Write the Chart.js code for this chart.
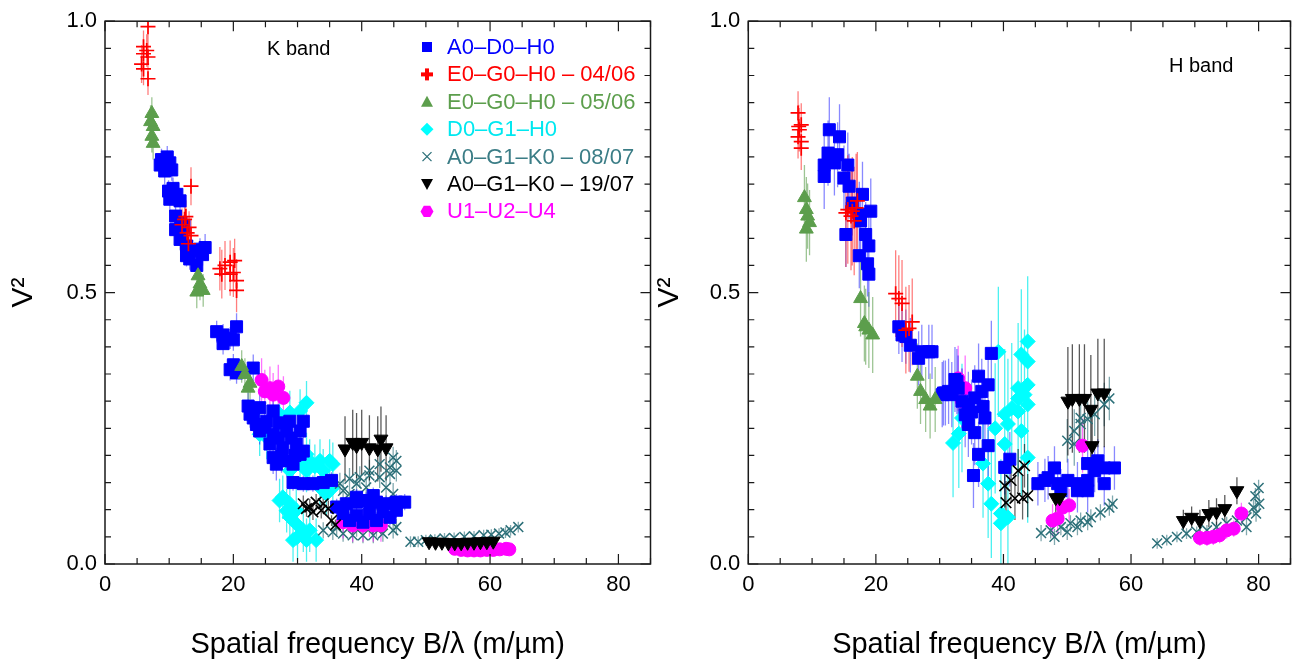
<!DOCTYPE html>
<html>
<head>
<meta charset="utf-8">
<script src="https://cdn.jsdelivr.net/npm/chart.js@4.4.1/dist/chart.umd.min.js"></script>
<style>
  body { margin: 0; background: #fff; width: 1300px; height: 667px; overflow: hidden; position: relative; }
  #wk { position: absolute; left: 0; top: 0; }
  #wh { position: absolute; left: 650px; top: 0; }
</style>
</head>
<body>
<div id="wk"><canvas id="kband" width="660" height="667"></canvas></div>
<div id="wh"><canvas id="hband" width="650" height="667"></canvas></div>
<script>
// each point: [B/lambda, V2, error]
// ---------- K band ----------
const kBlue = [
  [8.8,0.745,0.02],[10.1,0.739,0.02],[9.3,0.724,0.025],[10.4,0.726,0.02],[8.6,0.735,0.02],[9.7,0.75,0.02],
  [9.9,0.687,0.02],[11.2,0.681,0.02],[10.1,0.672,0.025],[11.7,0.669,0.02],[10.6,0.692,0.02],
  [11.0,0.641,0.02],[11.8,0.629,0.02],[11.0,0.616,0.025],[12.3,0.623,0.02],
  [11.7,0.598,0.02],[12.7,0.586,0.025],[13.7,0.577,0.02],[14.8,0.58,0.02],[15.6,0.583,0.025],[13.2,0.562,0.02],[14.3,0.55,0.025],[12.7,0.568,0.02],[15.2,0.57,0.02],
  [17.4,0.428,0.02],[18.4,0.422,0.02],[19.5,0.416,0.02],[20.5,0.437,0.025],[18.4,0.406,0.02],[20.0,0.413,0.02],
  [19.5,0.358,0.02],[20.5,0.352,0.02],[23.1,0.361,0.025],[20.0,0.367,0.02],
  [22.3,0.291,0.025],[24.1,0.288,0.025],[26.2,0.282,0.03],[23.1,0.269,0.025],[25.2,0.263,0.03],[27.2,0.26,0.03],[28.8,0.263,0.03],[30.9,0.263,0.03],
  [24.1,0.245,0.025],[26.2,0.239,0.03],[28.3,0.245,0.03],[30.4,0.245,0.03],[25.7,0.221,0.03],[27.7,0.214,0.03],[29.8,0.221,0.03],
  [26.2,0.196,0.03],[28.3,0.19,0.03],[30.4,0.202,0.03],[26.7,0.184,0.03],[29.3,0.184,0.03],[30.9,0.208,0.03],[23.6,0.257,0.025],[22.6,0.276,0.025],
  [27.0,0.232,0.03],[29.0,0.232,0.03],[24.9,0.252,0.03],[27.5,0.198,0.03],[29.6,0.2,0.03],
  [29.3,0.15,0.015],[30.9,0.148,0.015],[32.4,0.148,0.015],[34.0,0.15,0.015],[35.3,0.154,0.015],
  [36.1,0.105,0.015],[37.6,0.111,0.015],[39.2,0.114,0.015],[40.7,0.117,0.015],[42.3,0.114,0.015],[43.8,0.111,0.015],[45.4,0.114,0.015],[46.7,0.114,0.015],
  [37.1,0.093,0.015],[39.2,0.09,0.015],[41.2,0.093,0.015],[43.3,0.096,0.015],[45.4,0.099,0.015],
  [38.1,0.08,0.015],[40.2,0.077,0.015],[42.3,0.08,0.015],[44.4,0.086,0.015],[39.2,0.123,0.015],[41.8,0.126,0.015]
];
const kRed = [
  [6.0,0.953,0.03],[6.5,0.946,0.03],[6.0,0.94,0.035],[6.7,0.934,0.03],[5.7,0.921,0.035],[6.0,0.912,0.03],[6.7,0.894,0.03],[6.7,0.99,0.04],
  [12.0,0.625,0.03],[12.4,0.635,0.035],[12.8,0.61,0.03],[13.1,0.62,0.03],[13.4,0.605,0.03],[13.0,0.59,0.03],[13.4,0.696,0.035],[12.6,0.64,0.03],
  [17.9,0.544,0.04],[18.7,0.55,0.045],[19.5,0.556,0.04],[20.2,0.559,0.04],[18.2,0.534,0.045],[19.5,0.534,0.04],[20.5,0.522,0.04],[20.5,0.504,0.04],[20.0,0.537,0.045]
];
const kGreen = [
  [7.3,0.83,0.03],[7.5,0.806,0.03],[7.3,0.788,0.03],[7.5,0.775,0.03],[7.1,0.815,0.03],
  [14.5,0.531,0.03],[14.8,0.516,0.03],[14.3,0.501,0.03],[15.3,0.504,0.03],
  [21.3,0.364,0.03],[21.8,0.349,0.03],[22.6,0.333,0.03],[22.3,0.324,0.03]
];
const kCyan = [
  [31.4,0.297,0.04],[30.4,0.282,0.04],[28.8,0.279,0.04],[27.2,0.276,0.04],[25.2,0.233,0.04],[24.1,0.239,0.04],
  [28.8,0.172,0.04],[30.4,0.184,0.04],[31.9,0.19,0.04],[33.5,0.19,0.04],[35.0,0.19,0.04],[31.4,0.172,0.04],[34.0,0.172,0.04],[35.5,0.184,0.04],[31.4,0.202,0.04],
  [27.7,0.123,0.04],[28.8,0.111,0.04],[29.8,0.099,0.04],[28.8,0.086,0.04],[29.8,0.074,0.04],[30.9,0.062,0.04],
  [29.3,0.044,0.04],[31.4,0.044,0.04],[32.9,0.044,0.04],[31.9,0.062,0.04],[27.2,0.117,0.04],[34.5,0.129,0.04],[33.5,0.141,0.04],[35.5,0.141,0.04],
  [32.7,0.18,0.04],[30.0,0.05,0.04],[28.3,0.098,0.04]
];
const kTeal = [
  [36.6,0.148,0.02],[38.1,0.157,0.02],[39.7,0.16,0.02],[41.2,0.163,0.02],[42.8,0.16,0.02],[44.4,0.166,0.02],[45.4,0.19,0.02],[44.4,0.178,0.02],[42.8,0.184,0.02],
  [41.2,0.172,0.02],[39.2,0.148,0.02],[37.1,0.135,0.02],[40.7,0.141,0.02],[43.8,0.141,0.02],[44.9,0.129,0.02],[38.1,0.129,0.02],[45.4,0.172,0.02],[44.9,0.196,0.02],
  [34.0,0.062,0.015],[35.5,0.059,0.015],[37.1,0.056,0.015],[38.6,0.053,0.015],[40.2,0.053,0.015],[41.8,0.053,0.015],[43.3,0.056,0.015],[44.9,0.062,0.015],[45.4,0.068,0.015],
  [36.1,0.068,0.015],[39.2,0.065,0.015],[42.3,0.065,0.015],
  [47.6,0.041,0.01],[48.8,0.041,0.01],[50.0,0.044,0.01],[51.4,0.045,0.01],[52.9,0.047,0.01],[54.4,0.048,0.01],[56.0,0.05,0.01],[57.5,0.051,0.01],
  [59.0,0.053,0.01],[60.2,0.054,0.01],[61.4,0.056,0.01],[62.4,0.058,0.01],[63.2,0.062,0.01],[64.4,0.068,0.01]
];
const kBlackTri = [
  [37.4,0.212,0.06],[38.6,0.224,0.06],[40.0,0.224,0.06],[41.2,0.214,0.06],[42.5,0.212,0.06],[43.0,0.23,0.06],[43.8,0.214,0.06],[39.2,0.218,0.06],
  [50.5,0.041,0.008],[51.5,0.04,0.008],[52.5,0.04,0.008],[53.5,0.039,0.008],[54.5,0.039,0.008],[55.5,0.039,0.008],[56.5,0.04,0.008],[57.5,0.04,0.008],
  [58.5,0.041,0.008],[59.5,0.041,0.008],[60.5,0.042,0.008]
];
const kBlackX = [
  [30.9,0.111,0.015],[31.9,0.105,0.015],[32.9,0.114,0.015],[34.0,0.111,0.015],[32.4,0.096,0.015],[33.7,0.099,0.015],[31.4,0.102,0.015],[34.8,0.102,0.015],
  [35.3,0.08,0.01],[35.9,0.072,0.01]
];
const kMagenta = [
  [24.4,0.339,0.04],[25.7,0.324,0.04],[27.0,0.327,0.04],[27.8,0.306,0.04],[26.2,0.312,0.04],[24.9,0.318,0.04],
  [37.1,0.077,0.03],[38.6,0.071,0.03],[40.2,0.071,0.03],[41.8,0.071,0.03],[43.0,0.071,0.03],[41.2,0.08,0.03],
  [54.5,0.028,0.008],[55.5,0.026,0.008],[56.5,0.025,0.008],[57.5,0.025,0.008],[58.5,0.025,0.008],[59.5,0.026,0.008],
  [60.5,0.026,0.008],[61.5,0.027,0.008],[62.5,0.028,0.008],[63.0,0.027,0.008]
];

// ---------- H band ----------
const hBlue = [
  [12.7,0.8,0.06],[14.3,0.787,0.06],[12.5,0.757,0.06],[14.0,0.754,0.06],[11.9,0.735,0.06],[13.5,0.739,0.06],[11.9,0.714,0.06],
  [15.6,0.735,0.06],[15.0,0.711,0.06],[15.8,0.696,0.06],[17.9,0.681,0.06],[19.2,0.65,0.06],[17.6,0.632,0.06],[15.3,0.607,0.06],
  [18.4,0.607,0.06],[18.9,0.586,0.06],[17.4,0.568,0.06],[18.7,0.553,0.06],[18.9,0.534,0.06],[17.4,0.644,0.06],[16.3,0.665,0.06],
  [23.6,0.437,0.05],[24.7,0.419,0.05],[25.4,0.403,0.05],[24.1,0.422,0.05],
  [27.2,0.391,0.05],[28.3,0.391,0.05],[26.7,0.379,0.05],[28.8,0.391,0.05],
  [30.6,0.315,0.06],[31.9,0.312,0.06],[32.7,0.336,0.06],[30.9,0.315,0.06],[32.4,0.34,0.06],[36.1,0.346,0.06],[37.6,0.33,0.06],[38.1,0.388,0.06],
  [33.5,0.3,0.06],[35.5,0.306,0.06],[34.5,0.257,0.06],[37.1,0.269,0.06],[35.5,0.242,0.06],[37.6,0.218,0.06],[36.1,0.202,0.06],[35.3,0.163,0.06],
  [30.4,0.312,0.06],[34.5,0.294,0.06],[36.6,0.318,0.06],[32.9,0.324,0.06],[31.4,0.318,0.06],[40.2,0.178,0.05],[41.0,0.193,0.05],
  [35.0,0.28,0.06],[36.8,0.29,0.06],[34.0,0.275,0.06],
  [45.4,0.148,0.04],[47.0,0.159,0.04],[48.5,0.148,0.04],[50.1,0.154,0.04],[51.6,0.148,0.04],[53.2,0.154,0.04],[54.3,0.172,0.04],[55.8,0.177,0.04],
  [57.4,0.177,0.04],[53.2,0.185,0.04],[54.8,0.19,0.04],[51.6,0.135,0.04],[53.2,0.135,0.04],[55.8,0.148,0.04],[48.0,0.177,0.04],[49.0,0.135,0.04],[46.5,0.154,0.04]
];
const hRed = [
  [7.8,0.831,0.04],[8.3,0.809,0.04],[8.0,0.8,0.04],[7.8,0.787,0.04],[8.3,0.778,0.04],[8.3,0.766,0.04],[7.9,0.806,0.04],
  [15.6,0.653,0.1],[16.3,0.65,0.1],[17.1,0.669,0.09],[16.9,0.656,0.1],[16.1,0.641,0.1],[16.6,0.632,0.1],[15.3,0.647,0.1],
  [23.1,0.498,0.08],[23.6,0.489,0.08],[24.1,0.48,0.08],[25.7,0.446,0.08],[25.2,0.434,0.08],[24.7,0.431,0.08]
];
const hGreen = [
  [8.8,0.675,0.06],[9.1,0.653,0.06],[9.3,0.641,0.06],[9.6,0.629,0.06],[9.1,0.617,0.06],
  [17.6,0.489,0.07],[18.2,0.443,0.07],[18.9,0.431,0.07],[19.5,0.422,0.07],[18.4,0.437,0.07],
  [26.5,0.346,0.06],[27.0,0.318,0.06],[27.8,0.303,0.06],[28.5,0.291,0.06],[29.3,0.303,0.06]
];
const hCyan = [
  [39.2,0.391,0.12],[43.8,0.41,0.12],[43.8,0.373,0.12],[42.8,0.386,0.12],[43.8,0.33,0.12],[43.3,0.312,0.12],[43.8,0.294,0.12],
  [42.3,0.281,0.12],[40.2,0.276,0.12],[38.7,0.25,0.12],[40.7,0.258,0.12],[42.8,0.245,0.12],[43.8,0.196,0.12],[40.2,0.221,0.12],
  [37.6,0.148,0.1],[38.1,0.111,0.1],[39.6,0.093,0.1],[39.6,0.075,0.1],[32.1,0.223,0.1],[33.5,0.269,0.1],[42.3,0.324,0.12],
  [42.3,0.305,0.12],[41.3,0.287,0.12],[40.7,0.086,0.1],[33.0,0.24,0.1],[36.8,0.185,0.1]
];
const hTeal = [
  [45.9,0.057,0.015],[47.4,0.062,0.015],[49.0,0.068,0.015],[50.5,0.075,0.015],[52.1,0.08,0.015],[53.7,0.086,0.015],[55.2,0.095,0.015],
  [56.6,0.104,0.015],[57.1,0.111,0.015],[48.0,0.05,0.015],[50.0,0.059,0.015],[51.6,0.068,0.015],[53.2,0.077,0.015],
  [50.0,0.227,0.04],[51.1,0.245,0.04],[52.1,0.258,0.04],[53.2,0.267,0.04],[54.3,0.276,0.04],[55.8,0.294,0.04],[56.6,0.305,0.04],
  [52.1,0.269,0.04],[51.1,0.221,0.04],
  [64.1,0.038,0.01],[65.6,0.044,0.01],[67.2,0.05,0.01],[68.7,0.056,0.01],[70.3,0.059,0.01],[71.9,0.062,0.01],[73.4,0.068,0.01],
  [75.0,0.075,0.012],[76.6,0.08,0.012],[78.1,0.086,0.015],[79.2,0.104,0.015],[80.1,0.111,0.015],[78.1,0.068,0.015],[79.6,0.093,0.015],
  [80.0,0.14,0.015],[79.5,0.125,0.015]
];
const hBlackTri = [
  [50.1,0.3,0.1],[50.8,0.305,0.1],[51.9,0.305,0.1],[52.7,0.305,0.1],[53.7,0.285,0.1],[54.8,0.315,0.1],[55.8,0.315,0.1],
  [53.9,0.218,0.06],[48.2,0.122,0.03],[48.8,0.122,0.03],
  [68.2,0.08,0.02],[69.5,0.086,0.02],[70.8,0.08,0.02],[72.2,0.093,0.025],[73.4,0.096,0.025],[74.7,0.102,0.025],[76.6,0.135,0.025]
];
const hBlackX = [
  [40.2,0.144,0.04],[41.2,0.154,0.04],[42.3,0.172,0.04],[43.3,0.181,0.04],[40.4,0.113,0.04],[41.8,0.121,0.04],[43.0,0.122,0.04],[43.8,0.126,0.04]
];
const hMagenta = [
  [32.9,0.342,0.06],[34.0,0.324,0.06],[33.5,0.3,0.06],
  [52.4,0.218,0.05],[50.3,0.108,0.03],[48.5,0.084,0.03],[49.3,0.104,0.03],[47.7,0.08,0.03],
  [70.8,0.048,0.015],[71.9,0.048,0.015],[72.9,0.05,0.015],[73.9,0.053,0.015],[75.0,0.062,0.015],[76.1,0.065,0.015],[77.3,0.093,0.02]
];

const legendLabels = ['A0\u2013D0\u2013H0', 'E0\u2013G0\u2013H0 \u2013 04/06', 'E0\u2013G0\u2013H0 \u2013 05/06', 'D0\u2013G1\u2013H0',
                      'A0\u2013G1\u2013K0 \u2013 08/07', 'A0\u2013G1\u2013K0 \u2013 19/07', 'U1\u2013U2\u2013U4'];
const xTickLabels = [0, 20, 40, 60, 80];
const yTickLabels = [0, 0.5, 1];

const FONT = "'Liberation Sans', Arial, Helvetica, sans-serif";

// marker look per series
const styles = {
  blue:     { c: '#0000ff', e: 'rgba(40,40,255,0.55)', ps: 'rect', r: 8.5, rot: 0, bw: 1, order: 5 },
  red:      { c: '#ff0000', e: 'rgba(255,40,40,0.6)', ps: 'cross', r: 7.5, rot: 0, bw: 1.7, order: 2 },
  green:    { c: '#5c9e4c', e: 'rgba(92,158,76,0.6)', ps: 'triangle', r: 8, rot: 0, bw: 1, order: 3 },
  cyan:     { c: '#00ffff', e: 'rgba(0,235,235,0.7)', ps: 'rectRot', r: 7.5, rot: 0, bw: 1, order: 8 },
  teal:     { c: '#2d7079', e: 'rgba(45,112,121,0.6)', ps: 'crossRot', r: 7, rot: 0, bw: 1.5, order: 7 },
  blackTri: { c: '#000000', e: 'rgba(0,0,0,0.65)', ps: 'triangle', r: 8, rot: 180, bw: 1, order: 1 },
  blackX:   { c: '#000000', e: 'rgba(0,0,0,0.6)', ps: 'crossRot', r: 7.5, rot: 0, bw: 1.6, order: 4 },
  magenta:  { c: '#ff00ff', e: 'rgba(255,0,255,0.55)', ps: 'circle', r: 6.5, rot: 0, bw: 1, order: 6 }
};

function errBars(pts) {
  const out = [];
  pts.forEach(p => {
    out.push({ x: p[0], y: p[1] - p[2] }, { x: p[0], y: p[1] + p[2] }, { x: p[0], y: null });
  });
  return out;
}

function buildDatasets(groups) {
  const ds = [];
  groups.forEach(([pts, key]) => {
    const s = styles[key];
    ds.push({
      type: 'line', data: errBars(pts), borderColor: s.e, borderWidth: 1.3,
      pointRadius: 0, spanGaps: false, fill: false, order: 50 + s.order
    });
    ds.push({
      type: 'scatter', data: pts.map(p => ({ x: p[0], y: p[1] })),
      pointStyle: s.ps, pointRadius: s.r, pointRotation: s.rot,
      backgroundColor: s.c, borderColor: s.c, pointBorderWidth: s.bw, order: s.order
    });
  });
  return ds;
}

const frame = {
  id: 'frame',
  afterDatasetsDraw(chart) {
    const { ctx, chartArea: a, scales: { x, y } } = chart;
    ctx.save();
    ctx.strokeStyle = '#1a1a1a';
    ctx.lineWidth = 1.5;
    ctx.strokeRect(a.left, a.top, a.right - a.left, a.bottom - a.top);
    ctx.lineWidth = 1.2;
    ctx.beginPath();
    x.ticks.forEach(t => {
      const px = x.getPixelForValue(t.value);
      const len = xTickLabels.some(v => Math.abs(v - t.value) < 1e-6) ? 10 : 6;
      ctx.moveTo(px, a.bottom); ctx.lineTo(px, a.bottom - len);
      ctx.moveTo(px, a.top); ctx.lineTo(px, a.top + len);
    });
    y.ticks.forEach(t => {
      const py = y.getPixelForValue(t.value);
      const len = yTickLabels.some(v => Math.abs(v - t.value) < 1e-6) ? 10 : 6;
      ctx.moveTo(a.left, py); ctx.lineTo(a.left + len, py);
      ctx.moveTo(a.right, py); ctx.lineTo(a.right - len, py);
    });
    ctx.stroke();
    ctx.restore();
  }
};

function bandLabel(text, x, y) {
  return {
    id: 'band',
    afterDraw(chart) {
      const ctx = chart.ctx;
      ctx.save();
      ctx.font = '20px ' + FONT;
      ctx.fillStyle = '#000';
      ctx.textBaseline = 'alphabetic';
      ctx.fillText(text, x, y);
      ctx.restore();
    }
  };
}

function legendMarker(ctx, kind, x, y, col) {
  ctx.fillStyle = col; ctx.strokeStyle = col;
  ctx.beginPath();
  if (kind === 'blue') { ctx.fillRect(x - 5, y - 5, 10, 10); return; }
  if (kind === 'red') { ctx.fillRect(x - 6, y - 2, 12, 4); ctx.fillRect(x - 2, y - 6, 4, 12); return; }
  if (kind === 'green') { ctx.moveTo(x, y - 6); ctx.lineTo(x + 6, y + 5); ctx.lineTo(x - 6, y + 5); ctx.closePath(); ctx.fill(); return; }
  if (kind === 'cyan') { ctx.moveTo(x, y - 6.5); ctx.lineTo(x + 6.5, y); ctx.lineTo(x, y + 6.5); ctx.lineTo(x - 6.5, y); ctx.closePath(); ctx.fill(); return; }
  if (kind === 'teal') { ctx.lineWidth = 1.3; ctx.moveTo(x - 4.5, y - 4.5); ctx.lineTo(x + 4.5, y + 4.5); ctx.moveTo(x + 4.5, y - 4.5); ctx.lineTo(x - 4.5, y + 4.5); ctx.stroke(); return; }
  if (kind === 'blackTri') { ctx.moveTo(x - 6, y - 5); ctx.lineTo(x + 6, y - 5); ctx.lineTo(x, y + 6); ctx.closePath(); ctx.fill(); return; }
  if (kind === 'magenta') {
    for (let i = 0; i < 6; i++) {
      const a = Math.PI / 3 * i;
      const px = x + 6.5 * Math.cos(a), py = y + 6.5 * Math.sin(a);
      if (i === 0) ctx.moveTo(px, py); else ctx.lineTo(px, py);
    }
    ctx.closePath(); ctx.fill();
  }
}

const legendKeys = ['blue', 'red', 'green', 'cyan', 'teal', 'blackTri', 'magenta'];
const legendText = ['#0000ff', '#ff0000', '#5c9e4c', '#00e8f0', '#3b7d86', '#000000', '#ff00ff'];

const legendBox = {
  id: 'legendBox',
  afterDraw(chart) {
    const ctx = chart.ctx;
    ctx.save();
    ctx.font = '22px ' + FONT;
    ctx.textBaseline = 'middle';
    legendLabels.forEach((lab, i) => {
      const y = 47 + i * 27.4;
      legendMarker(ctx, legendKeys[i], 427, y, styles[legendKeys[i]].c);
      ctx.fillStyle = legendText[i];
      ctx.fillText(lab, 447, y + 1);
    });
    ctx.restore();
  }
};

function makeOptions(yWidth, titlePad, padRight) {
  return {
    responsive: false,
    animation: false,
    events: [],
    layout: { padding: { top: 17, right: padRight, bottom: 0, left: 0 } },
    plugins: { legend: { display: false }, tooltip: { enabled: false } },
    scales: {
      x: {
        type: 'linear', min: 0, max: 85,
        border: { display: false },
        grid: { display: false, drawTicks: false },
        ticks: {
          stepSize: 5, autoSkip: false, maxRotation: 0, padding: 8, color: '#000',
          font: { family: FONT, size: 22 },
          callback: v => (xTickLabels.some(t => Math.abs(t - v) < 1e-6) ? String(Math.round(v)) : '')
        },
        title: {
          display: true, text: 'Spatial frequency B/\u03bb (m/\u00b5m)', color: '#000',
          font: { family: FONT, size: 29 }, padding: { top: 0, bottom: 5 }
        },
        afterFit: s => { s.height = 103; }
      },
      y: {
        type: 'linear', min: 0, max: 1,
        border: { display: false },
        grid: { display: false, drawTicks: false },
        ticks: {
          stepSize: 0.05, autoSkip: false, padding: 8, color: '#000',
          font: { family: FONT, size: 22 },
          callback: v => (yTickLabels.some(t => Math.abs(t - v) < 1e-6) ? v.toFixed(1) : '')
        },
        title: {
          display: true, text: 'V\u00b2', color: '#000',
          font: { family: FONT, size: 30 }, padding: { top: titlePad, bottom: 0 }
        },
        afterFit: s => { s.width = yWidth; }
      }
    }
  };
}

new Chart(document.getElementById('kband'), {
  type: 'scatter',
  data: {
    datasets: buildDatasets([
      [kBlue, 'blue'], [kRed, 'red'], [kGreen, 'green'], [kCyan, 'cyan'],
      [kTeal, 'teal'], [kBlackTri, 'blackTri'], [kBlackX, 'blackX'], [kMagenta, 'magenta']
    ])
  },
  options: makeOptions(105, 6, 8),
  plugins: [frame, bandLabel('K band', 267, 55), legendBox]
});

new Chart(document.getElementById('hband'), {
  type: 'scatter',
  data: {
    datasets: buildDatasets([
      [hBlue, 'blue'], [hRed, 'red'], [hGreen, 'green'], [hCyan, 'cyan'],
      [hTeal, 'teal'], [hBlackTri, 'blackTri'], [hBlackX, 'blackX'], [hMagenta, 'magenta']
    ])
  },
  options: makeOptions(98.3, 2, 4),
  plugins: [frame, bandLabel('H band', 519, 72)]
});
</script>
</body>
</html>
